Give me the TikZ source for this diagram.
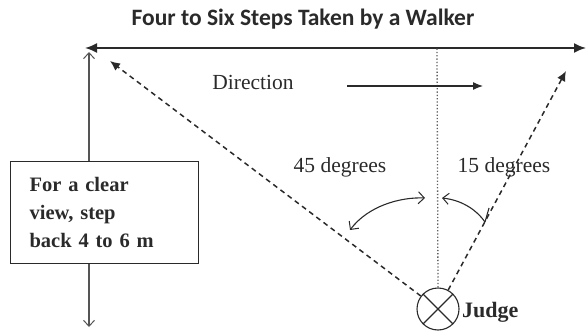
\documentclass[tikz,border=0pt]{standalone}
\usepackage{fontspec}
\setmainfont{Liberation Serif}
\newfontfamily\titlefont{Carlito}
\usetikzlibrary{arrows.meta}
\definecolor{ink}{HTML}{2A2A2A}
\begin{document}
\begin{tikzpicture}[x=1pt,y=-1pt,
  ink/.style={draw=ink},
  openhead/.style={-{Straight Barb[length=6pt,width=11pt,line width=1pt]}},
  dashline/.style={ink,line width=1.5pt,dash pattern=on 5pt off 4pt},
  lbl/.style={font=\fontsize{21.5}{24}\selectfont,text=ink,inner sep=0pt},
  boldlbl/.style={font=\bfseries\fontsize{22}{24}\selectfont,text=ink,inner sep=0pt}]
\useasboundingbox (0,0) rectangle (586,334);
\node[font=\titlefont\bfseries\fontsize{23.5}{26}\selectfont,text=ink,inner sep=0pt] (title) at (303,19) {Four to Six Steps Taken by a Walker};
% top double arrow
\coordinate (tl) at (85,48);
\coordinate (tr) at (586,48);
\draw[ink,line width=1.8pt,{Latex[length=12pt,width=10pt]}-{Latex[length=12pt,width=10pt]}] (tl) -- (tr);
% judge
\node[circle,ink,line width=1.1pt,minimum size=42pt,inner sep=0pt] (judge) at (438,309) {};
\draw[ink,line width=1.1pt] (judge.north west) -- (judge.south east);
\draw[ink,line width=1.1pt] (judge.north east) -- (judge.south west);
\node[boldlbl,anchor=west] (jl) at (462,312) {Judge};
% vertical dotted centre line
\coordinate (vtop) at (437,48);
\draw[ink!75,line width=1.3pt,dotted] (judge.north) -- (vtop);
% left box and vertical arrow
\node[draw=ink,line width=1.2pt,anchor=north west,minimum width=188pt,minimum height=102pt,
  text width=150pt,align=left,inner xsep=19pt,font=\bfseries\fontsize{20.5}{28}\selectfont,text=ink] (box) at (10,161)
  {For a clear\\view, step\\back 4 to 6 m};
\coordinate (ltop) at (89,52);
\coordinate (lbot) at (89,327);
\draw[ink!80,line width=1.2pt,openhead] (box.north -| ltop) -- (ltop);
\draw[ink!80,line width=1.2pt,openhead] (box.south -| lbot) -- (lbot);
% direction
\node[lbl] (dir) at (253,82) {Direction};
\coordinate (da) at (347,86);
\coordinate (db) at (483,86);
\draw[ink,line width=1.2pt,-{Latex[length=10pt,width=8pt]}] (da) -- (db);
% dashed sight lines
\coordinate (lt) at (110,61);
\coordinate (rt) at (566,71);
\draw[dashline,-{Latex[length=10pt,width=9pt]}] (judge) -- (lt);
\draw[dashline,-{Latex[length=10pt,width=9pt]}] (judge) -- (rt);
% angle labels
\node[lbl] (a45) at (340,167) {45 degrees};
\node[lbl] (a15) at (504,167) {15 degrees};
% curved arrows
\coordinate (c1a) at (350,230);
\coordinate (c1b) at (425,198);
\draw[ink,line width=1.1pt,{Straight Barb[length=6pt,width=12pt,line width=1pt]}-{Straight Barb[length=6pt,width=12pt,line width=1pt]}]
  (c1a) .. controls (368,206) and (400,197) .. (c1b);
\coordinate (c2a) at (485,222);
\coordinate (c2b) at (442,198);
\coordinate (c2t) at (489,208);
\draw[ink,line width=1.1pt,openhead] (c2a) .. controls (475,208) and (460,200) .. (c2b);
\draw[ink,line width=1.1pt] (c2a) -- (c2t);
\end{tikzpicture}
\end{document}
